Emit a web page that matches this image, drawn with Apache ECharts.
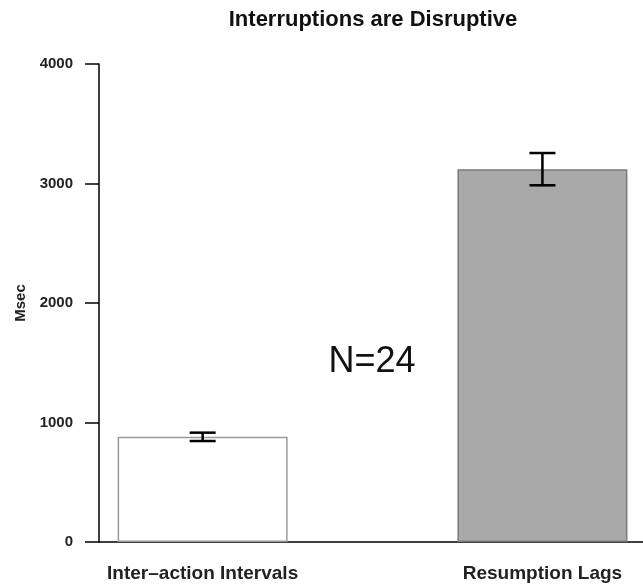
<!DOCTYPE html>
<html>
<head>
<meta charset="utf-8">
<title>Interruptions are Disruptive</title>
<script src="https://cdn.jsdelivr.net/npm/echarts@6/dist/echarts.min.js"></script>
<style>
  html, body { margin: 0; padding: 0; background: #ffffff; }
  #chart { width: 643px; height: 587px; }
</style>
</head>
<body>
<div id="chart"></div>
<script>
// categories and values
const categories = ['Inter\u2013action Intervals', 'Resumption Lags'];
const positions = [1, 2];
const means = [880, 3120];
const errors = [35, 135];
const yTicks = [0, 1000, 2000, 3000, 4000];

const fontFamily = '"Liberation Sans", Arial, sans-serif';

const chart = echarts.init(document.getElementById('chart'));

const barData = positions.map((x, i) => ({
  value: [x, means[i]],
  itemStyle: i === 0
    ? { color: '#ffffff', borderColor: '#9a9a9a', borderWidth: 1.5 }
    : { color: '#a9a9a9', borderColor: '#7a7a7a', borderWidth: 1.5 }
}));

const errData = positions.map((x, i) => [x, means[i] - errors[i], means[i] + errors[i]]);

const option = {
  animation: false,
  backgroundColor: '#ffffff',
  title: {
    text: 'Interruptions are Disruptive',
    left: 368,
    top: 4,
    textAlign: 'center',
    textStyle: { fontFamily, fontSize: 22, fontWeight: 'bold', color: '#111' }
  },
  grid: { left: 99, right: 0, top: 64, bottom: 45 },
  xAxis: {
    type: 'value',
    min: 0.695,
    max: 2.296,
    splitLine: { show: false },
    axisLine: { show: true, lineStyle: { color: '#000', width: 1.5 } },
    axisTick: { show: false },
    axisLabel: {
      customValues: positions,
      formatter: v => categories[positions.indexOf(v)] || '',
      margin: 22,
      fontFamily, fontSize: 19, fontWeight: 'bold', color: '#222'
    }
  },
  yAxis: {
    type: 'value',
    min: 0,
    max: 4000,
    interval: 1000,
    name: 'Msec',
    nameLocation: 'middle',
    nameRotate: 90,
    nameGap: 70,
    nameTextStyle: { fontFamily, fontSize: 15, fontWeight: 'bold', color: '#222' },
    splitLine: { show: false },
    axisLine: { show: true, lineStyle: { color: '#000', width: 1.5 } },
    axisTick: { show: true, inside: false, length: 14, lineStyle: { color: '#000', width: 1.5 } },
    axisLabel: {
      margin: 26,
      fontFamily, fontSize: 15, fontWeight: 'bold', color: '#222',
      formatter: v => (yTicks.indexOf(v) >= 0 ? String(v) : '')
    }
  },
  graphic: [{
    type: 'text',
    x: 372,
    y: 362,
    style: {
      text: 'N=24',
      fontFamily, fontSize: 36, fill: '#111',
      align: 'center', verticalAlign: 'middle'
    }
  }],
  series: [
    {
      type: 'bar',
      barWidth: 170,
      data: barData
    },
    {
      type: 'custom',
      data: errData,
      z: 10,
      renderItem: (params, api) => {
        const x = api.value(0);
        const lo = api.coord([x, api.value(1)]);
        const hi = api.coord([x, api.value(2)]);
        const half = 13;
        const style = { stroke: '#000', lineWidth: 2.5 };
        return {
          type: 'group',
          children: [
            { type: 'line', shape: { x1: lo[0], y1: lo[1], x2: hi[0], y2: hi[1] }, style },
            { type: 'line', shape: { x1: lo[0] - half, y1: lo[1], x2: lo[0] + half, y2: lo[1] }, style },
            { type: 'line', shape: { x1: hi[0] - half, y1: hi[1], x2: hi[0] + half, y2: hi[1] }, style }
          ]
        };
      }
    }
  ]
};

chart.setOption(option);
</script>
</body>
</html>
